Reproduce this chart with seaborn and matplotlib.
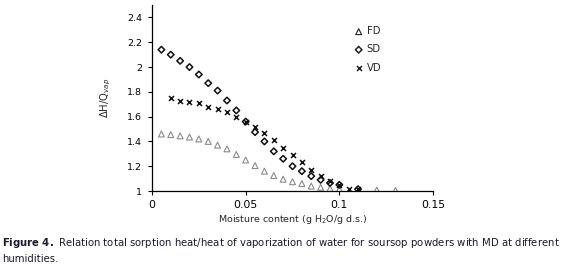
import numpy as np
import pandas as pd
import seaborn as sns
import matplotlib.pyplot as plt

# datos
x_fd = [0.005, 0.01, 0.015, 0.02, 0.025, 0.03, 0.035, 0.04, 0.045, 0.05, 0.055, 0.06, 0.065,
        0.07, 0.075, 0.08, 0.085, 0.09, 0.095, 0.1, 0.12, 0.13]
y_fd = [1.46, 1.455, 1.445, 1.435, 1.42, 1.40, 1.37, 1.34, 1.295, 1.25, 1.205, 1.16, 1.125,
        1.095, 1.075, 1.06, 1.04, 1.03, 1.02, 1.015, 1.008, 1.005]

x_sd = [0.005, 0.01, 0.015, 0.02, 0.025, 0.03, 0.035, 0.04, 0.045, 0.05, 0.055, 0.06, 0.065,
        0.07, 0.075, 0.08, 0.085, 0.09, 0.095, 0.1, 0.11]
y_sd = [2.14, 2.10, 2.05, 2.00, 1.94, 1.87, 1.81, 1.73, 1.65, 1.56, 1.475, 1.40, 1.32,
        1.26, 1.20, 1.16, 1.12, 1.09, 1.065, 1.05, 1.015]

x_vd = [0.01, 0.015, 0.02, 0.025, 0.03, 0.035, 0.04, 0.045, 0.05, 0.055, 0.06, 0.065,
        0.07, 0.075, 0.08, 0.085, 0.09, 0.095, 0.1, 0.105, 0.11]
y_vd = [1.75, 1.73, 1.72, 1.71, 1.68, 1.66, 1.64, 1.60, 1.56, 1.52, 1.47, 1.41,
        1.35, 1.29, 1.23, 1.17, 1.12, 1.08, 1.05, 1.015, 1.015]

x_ticks = [0, 0.05, 0.1, 0.15]
x_ticklabels = ["0", "0.05", "0.1", "0.15"]
y_ticks = [1, 1.2, 1.4, 1.6, 1.8, 2, 2.2, 2.4]
y_ticklabels = ["1", "1.2", "1.4", "1.6", "1.8", "2", "2.2", "2.4"]

df_fd = pd.DataFrame({"x": x_fd, "y": y_fd})
df_sd = pd.DataFrame({"x": x_sd, "y": y_sd})
df_vd = pd.DataFrame({"x": x_vd, "y": y_vd})

sns.set_style("ticks")
plt.rcParams['font.family'] = ['DejaVu Sans']

fig = plt.figure(figsize=(5.66, 2.68), dpi=100)
ax = fig.add_axes([0.2686, 0.2873, 0.4964, 0.6937])

sns.scatterplot(data=df_fd, x="x", y="y", marker="^", s=18, facecolor="none",
                edgecolor="#8c8c8c", linewidth=0.8, ax=ax, label="FD")
sns.scatterplot(data=df_sd, x="x", y="y", marker="D", s=11, facecolor="none",
                edgecolor="#111111", linewidth=1.1, ax=ax, label="SD")
sns.scatterplot(data=df_vd, x="x", y="y", marker="x", s=13, color="#111111",
                linewidth=1.1, ax=ax, label="VD")

ax.set_xlim(0, 0.15)
ax.set_ylim(1, 2.5)
ax.set_xticks(x_ticks)
ax.set_xticklabels(x_ticklabels, fontsize=7.8)
ax.set_yticks(y_ticks)
ax.set_yticklabels(y_ticklabels, fontsize=6.8)
ax.tick_params(axis="both", direction="out", length=3, width=0.8, colors="black")
ax.tick_params(axis="y", pad=4)
sns.despine(ax=ax)
for s in ["left", "bottom"]:
    ax.spines[s].set_linewidth(0.9)
    ax.spines[s].set_color("black")

ax.set_xlabel("Moisture content (g H$_2$O/g d.s.)", fontsize=6.8, labelpad=2)
ax.set_ylabel("ΔH/Q$_{vap}$", fontsize=7.2, labelpad=10)

leg = ax.legend(loc="upper left", bbox_to_anchor=(0.685, 0.935), frameon=False,
                fontsize=7.3, handletextpad=0.3, labelspacing=0.8, markerscale=1.0,
                handlelength=1.0)
for h in leg.legend_handles:
    h.set_edgecolor("#222222")

fig.text(0.004, 0.095, r"$\bf{Figure\ 4.}$ Relation total sorption heat/heat of vaporization of water for soursop powders with MD at different",
         fontsize=7.3, color="#1a1a2e", ha="left", va="center")
fig.text(0.004, 0.035, "humidities.", fontsize=7.3, color="#1a1a2e", ha="left", va="center")

fig.savefig("out.png", dpi=100)
